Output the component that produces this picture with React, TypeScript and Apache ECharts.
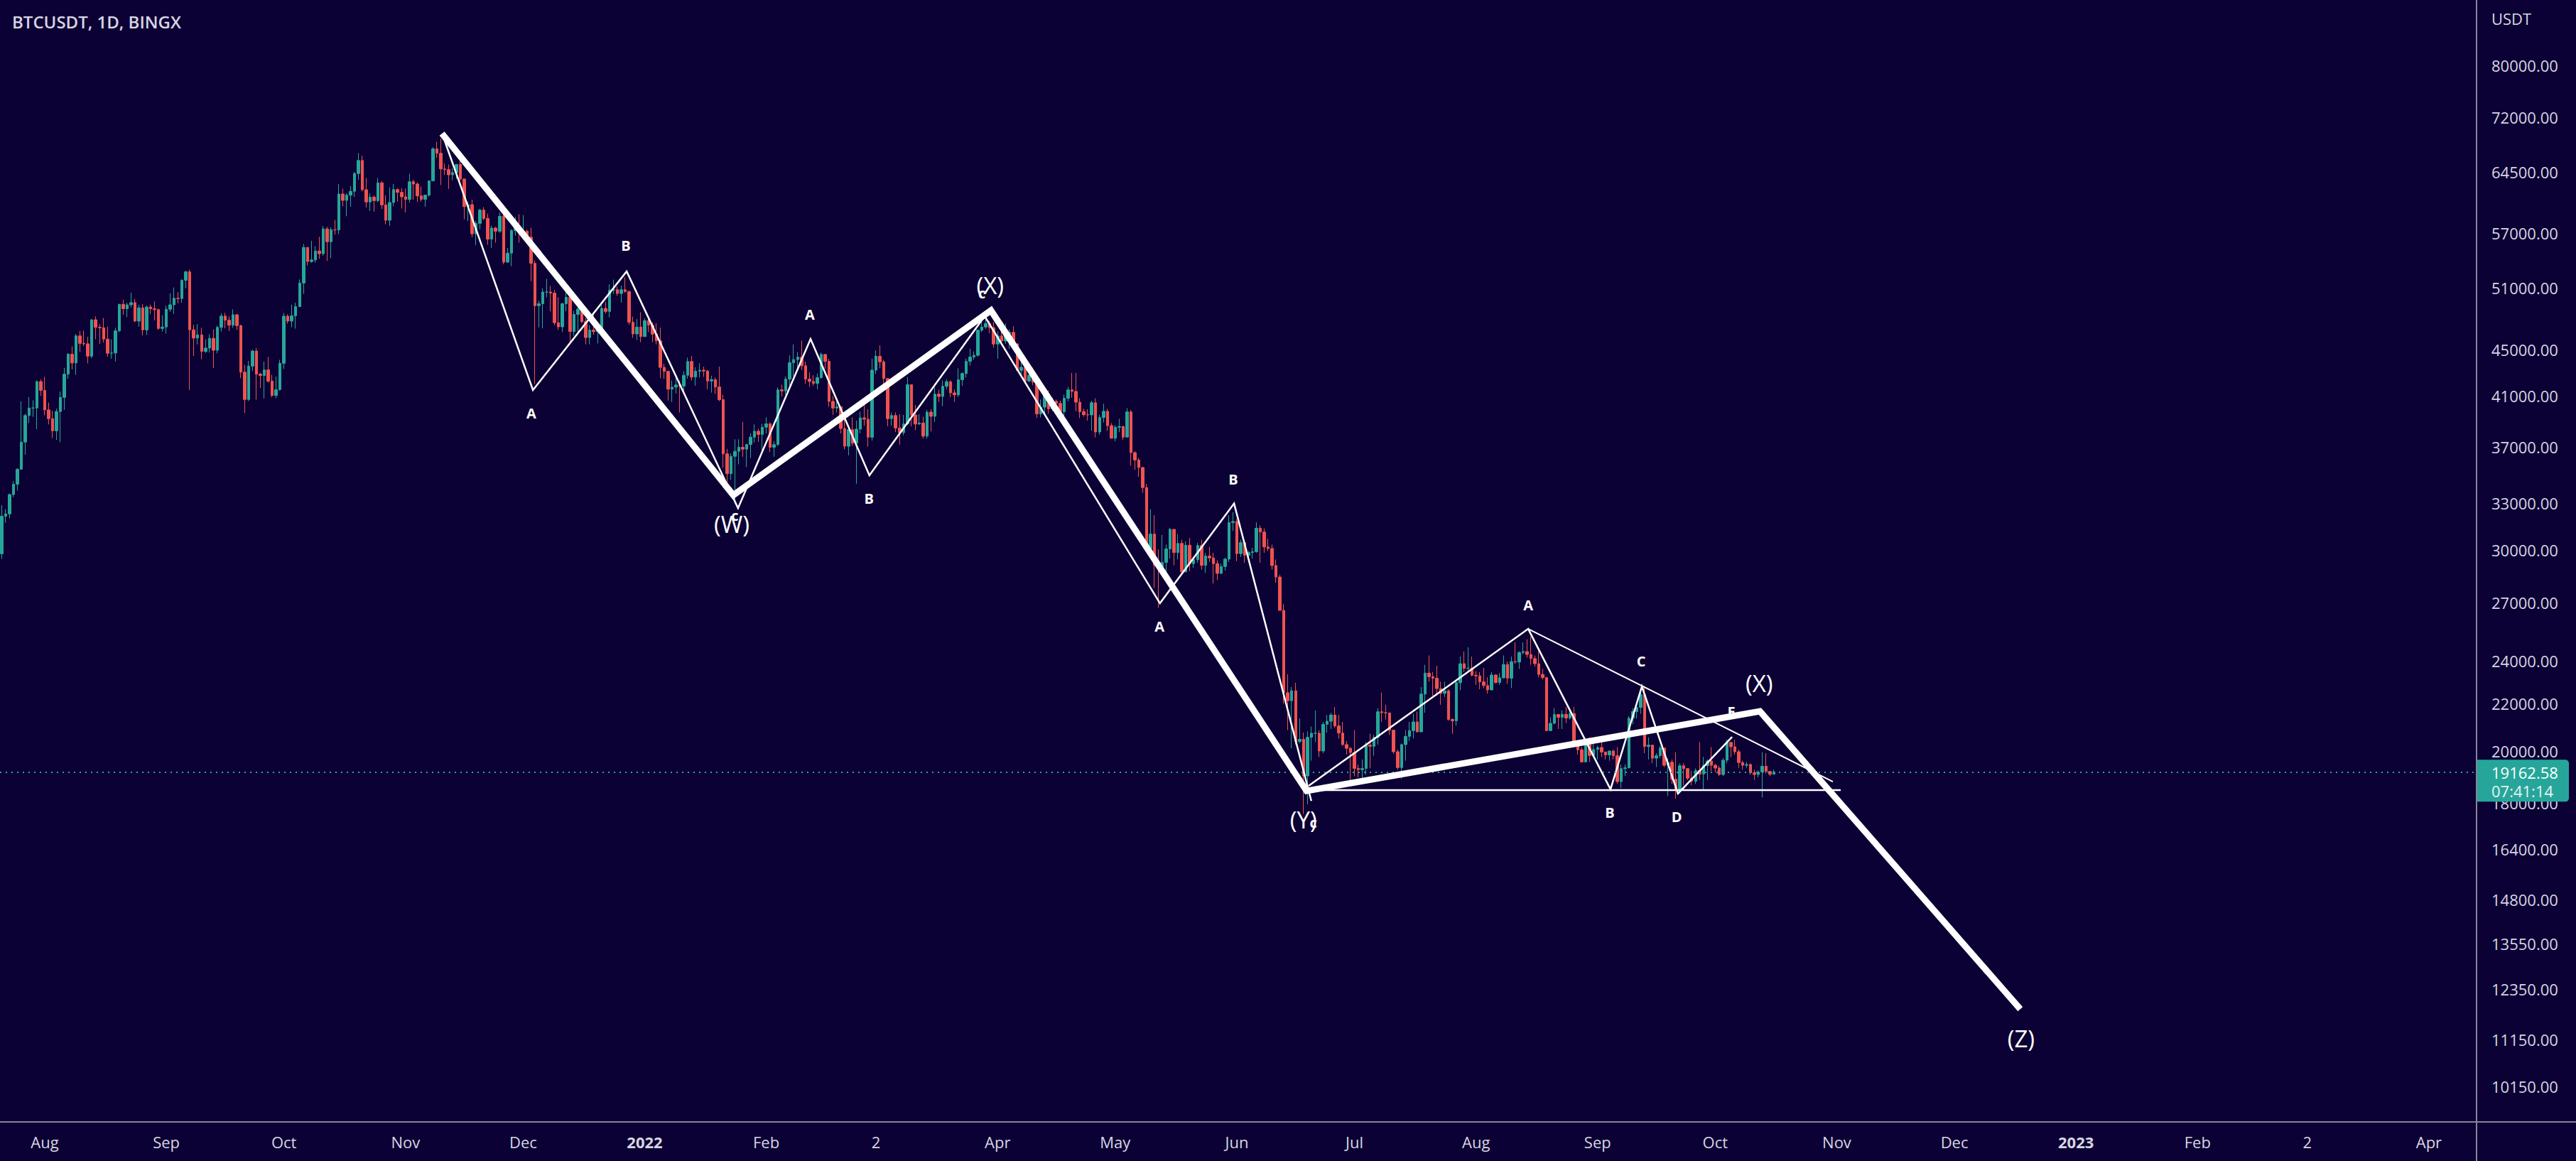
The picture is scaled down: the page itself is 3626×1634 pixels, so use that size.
import React, { useEffect, useRef } from 'react';
import * as echarts from 'echarts';

// ---------- data (daily candles: [close, high, low]; open = previous close) ----------
const FIRST_OPEN = 29790;
const jul2021 = [[32140,32860,29480],[32290,32600,31710],[33580,33650,32000],[34290,34500,33400],[35350,35400,33850],[37340,40550,35300],[39400,39540,36400],[40000,40900,38800],[40010,40630,39300],[42200,42300,38330],[41460,42400,41000]];
const aug2021 = [[39850,42600,39420],[39150,40450,38700],[38200,39780,37640],[39720,39950,37500],[40870,41370,37330],[42840,43390,39850],[44610,44700,42450],[43820,45310,43260],[46290,46450,42780],[45590,46740,44800],[45550,46780,45350],[44430,46200,43790],[47820,47880,44250],[47100,48150,45970],[47050,47390,45540],[45990,48000,45660],[44690,47160,44380],[44710,45960,44200],[46760,47050,43950],[49340,49380,46650],[48900,49800,48300],[49290,49500,48080],[49510,50500,49030],[47690,49880,47600],[48990,49300,47150],[46850,49370,46330],[49070,49200,46370],[48900,49310,48370],[48810,49630,47760],[46990,48900,46850],[47130,48250,46700]];
const sep2021 = [[48850,49200,46510],[49290,50450,48600],[49950,51050,48400],[49920,50560,49430],[51790,51900,49500],[52690,52800,50970],[46860,52920,41500],[46080,47350,44440],[46390,47400,45500],[44850,47050,44150],[45160,45970,44720],[46060,46450,44750],[44960,46900,43370],[47090,47250,44680],[48180,48450,46700],[47780,48500,47000],[47300,48150,46750],[48310,48830,47050],[47260,48380,46850],[43010,47340,42500],[40700,43640,39600],[43540,44000,40570],[44890,45000,43100],[42840,45150,40680],[42720,42970,41650],[43210,43940,40780],[42240,44350,42110],[41030,42780,40880],[41520,42630,40800],[43790,44100,41420]];
const oct2021 = [[48170,48490,43290],[47690,48360,47450],[48200,49300,47100],[49110,49500,46970],[51510,51890,49100],[55360,55750,50400],[53800,55330,53360],[53970,56100,53660],[54960,55490,53700],[54660,56560,54100],[57470,57800,54440],[56000,57700,53880],[57370,57650,54170],[57350,58530,56820],[61670,62930,56850],[60880,62330,60150],[61530,61750,58960],[62010,62650,60100],[64280,64490,61320],[66000,67000,63480],[62210,66640,62000],[60690,63720,60000],[61290,61740,59600],[60850,61480,59510],[63080,63710,60650],[60330,63290,59830],[58480,61500,58000],[60620,62500,57820],[62230,62950,60160],[61880,62370,60740],[61320,62400,59900]];
const nov2021 = [[61000,62350,59400],[63220,64270,60620],[62930,63500,60970],[61440,63130,60680],[61010,62600,60730],[61530,61600,60100],[63330,63400,61330],[67570,67790,63300],[66970,68530,66380],[64880,69000,62800],[64790,65600,64100],[64120,65460,62300],[64400,64970,63400],[65470,65530,63600],[63570,66400,63350],[60120,63600,58600],[60360,60720,58380],[56900,60970,56500],[58120,58400,55600],[59700,59860,57450],[58700,60050,58500],[56290,59280,55650],[57570,57850,55300],[57200,57700,55900],[58960,59400,57000],[53730,59200,53500],[54720,55300,53650],[57270,57450,53300],[57810,58870,56700],[56950,59200,55900]];
const dec2021 = [[57200,59100,56450],[56510,57400,55850],[53600,57600,51700],[49200,53900,42000],[49400,49700,47100],[50580,50950,47000],[50580,51950,50050],[50470,51200,48650],[47540,50800,47300],[47140,50050,46850],[49390,49500,46650],[50050,50800,48650],[46700,50200,45700],[48340,48700,46300],[48860,49500,46550],[47630,49450,47520],[46130,47990,45500],[46830,47300,45500],[46680,48300,46400],[46910,47500,45580],[48930,49300,46600],[48630,49570,48420],[50780,51380,48050],[50820,51860,50400],[50430,51150,50200],[50810,51250,49500],[50640,52100,50500],[47590,50700,47350],[46470,48120,46100],[47120,47900,45900],[46220,48550,45700]];
const jan2022 = [[47740,47950,46200],[47310,47980,46650],[46450,47570,45700],[45830,47500,45500],[43430,47070,42500],[43080,43750,42450],[41560,43140,40610],[41730,42300,40500],[41910,42800,41200],[41820,42250,39650],[42740,43100,41300],[43950,44300,42450],[42590,44450,42300],[43100,43440,41850],[43180,43800,42550],[43110,43500,42600],[42250,43200,41550],[42370,42700,41270],[41740,42550,41150],[40680,43500,40560],[36460,41100,35450],[35030,36830,34000],[36280,36500,34600],[36650,37550,32950],[36950,37550,35700],[36810,38900,36250],[37160,37200,35500],[37710,38000,36150],[38170,38700,37300],[37920,38350,37350],[38480,38750,36650]];
const feb2022 = [[38740,39250,38000],[36950,38850,36600],[37150,37400,36250],[41500,41700,37050],[41410,41930,40950],[42410,42650,41100],[43840,44500,41670],[44120,45500,42650],[44340,44800,43150],[43570,45850,43200],[42410,43950,42000],[42210,43000,41750],[42050,42750,41850],[42540,42900,41550],[44580,44750,42450],[43960,44600,43300],[40540,44180,40100],[40000,40980,39450],[40110,40500,39650],[38380,40150,38000],[37030,39500,36800],[38290,38450,36350],[37260,39250,37050],[38330,39000,34320],[39210,39700,38000],[39110,40300,38600],[37710,39900,37000],[43190,44200,37450]];
const mar2022 = [[44420,44950,42850],[43920,45400,43350],[42460,44100,41850],[39150,42500,38550],[39400,39650,38600],[38420,39650,38100],[38060,39500,37150],[38740,39450,37850],[41940,42600,38650],[39440,41950,38550],[38730,40250,38250],[38810,39500,38650],[37790,39300,37600],[39670,39850,37600],[39340,39900,38150],[41140,41700,38900],[40950,41500,40500],[41800,42300,40150],[42190,42400,41550],[41250,42300,40900],[41080,41550,40500],[42360,43350,40900],[42890,43000,41850],[43960,44200,42550],[44350,45100,43600],[44500,44850,44100],[46820,46900,44400],[47130,48200,46650],[47460,48100,46950],[47060,47700,46550],[45530,47600,45200]];
const apr2022 = [[46280,46700,44200],[45810,47200,45600],[46400,47450,45550],[46620,46900,45100],[45550,47200,45350],[43170,45550,43100],[43440,43900,42750],[42250,43950,42100],[42750,42800,42150],[42160,43400,41900],[39530,42400,39200],[40070,40700,39250],[41150,41550,39550],[39940,41450,39550],[40550,40850,39750],[40380,40700,40000],[39710,40600,39550],[40800,41100,38550],[41500,41750,40550],[41370,42950,40850],[40480,42950,39750],[39710,40800,39200],[39470,39950,39300],[39450,39900,39000],[40430,40600,38200],[38110,40800,37700],[39240,39450,37900],[39740,40350,38850],[38600,39950,38200],[37630,38800,37600]];
const may2022 = [[38470,38650,37400],[38530,39150,38100],[37720,38600,37500],[39690,40000,37700],[36550,39850,35600],[36010,36650,35300],[35470,36150,34800],[34060,35500,33700],[30100,34300,30050],[31000,32600,29750],[29100,32200,27800],[28930,30050,26700],[29280,30950,28750],[30080,30350,28650],[31300,31400,29500],[29860,31300,29100],[30420,31000,29450],[28720,30650,28650],[30310,30550,28700],[29200,30750,28750],[29430,29600,28950],[30290,30450,29250],[29100,30650,28850],[29650,29850,28650],[29540,30200,29300],[29200,29850,28050],[28630,29400,28250],[29030,29200,28600],[29470,29550,28800],[31730,32200,29300],[31800,32400,31200]];
const jun2022 = [[29800,31950,29350],[30470,30650,29600],[29700,30650,29250],[29860,29950,29500],[29910,30150,29500],[31370,31750,29850],[31130,31550,29250],[30200,31350,29850],[30110,30700,29950],[29090,30350,28850],[28420,29450,28100],[26570,28550,26550],[22490,26900,22000],[22130,23350,20850],[22580,22750,20100],[20380,22950,20250],[20470,21350,20300],[19010,20750,17600],[20550,20800,17950],[20720,21000,19600],[20720,21700,20350],[19990,20850,19750],[21100,21200,19900],[21230,21500,20750],[21500,21600,20900],[21030,21850,20950],[20730,21500,20500],[20250,21200,20200],[20100,20400,19850],[19930,20150,18650]];
const jul2022 = [[19300,20850,19000],[19250,19450,18950],[19300,19650,18800],[20230,20350,19050],[20180,20700,19300],[20550,20650,19800],[21640,21800,20250],[21600,22500,21200],[21590,21950,21300],[20850,21600,20650],[19960,20850,19880],[19330,20050,19250],[20250,20300,18900],[20590,20850,19600],[20830,21200,20400],[21200,21550,20500],[20780,21650,20750],[22430,22750,20770],[23400,23800,21600],[23230,24250,23000],[23160,23450,22350],[22680,23750,22350],[22460,22990,21950],[22580,23000,22300],[21310,22650,21250],[21250,21350,20700],[22950,23100,21050],[23850,24200,22600],[23630,24450,23450],[23640,24650,23500],[23300,24200,23250]];
const aug2022 = [[23270,23500,22850],[22990,23450,22650],[22820,23650,22700],[22620,23200,22450],[23310,23450,22600],[22960,23350,22900],[23180,23400,22850],[23810,24250,23150],[23160,23950,22900],[23950,24200,22700],[23930,24900,23850],[24400,24450,23600],[24440,24900,24300],[24300,25050,24150],[24100,25200,23800],[23850,24250,23700],[23340,24450,23200],[23190,23600,23100],[20830,23200,20800],[21140,21400,20850],[21520,21800,21100],[21400,21550,20900],[21530,21700,20900],[21370,21850,21150],[21560,21800,21300],[20260,21850,20150],[20040,20350,19850],[19550,20150,19550],[20280,20400,19550],[19810,20550,19550],[20050,20480,19800]];
const sep2022 = [[20130,20200,19650],[19950,20450,19750],[19830,19950,19650],[19990,20000,19600],[19800,20050,19650],[18790,20150,18700],[19290,19450,18550],[19320,19450,19000],[21360,21450,19300],[21650,21800,21100],[21830,21850,21350],[22400,22500,21550],[20170,22800,19900],[20230,20550,19650],[19700,20200,19500],[19800,19900,19350],[20110,20200,19700],[19420,20100,19350],[19540,19700,18250],[18880,19650,18700],[18480,19950,18150],[19400,19500,18350],[19290,19500,18650],[18920,19300,18850],[18800,19200,18650],[19220,19300,18700],[19080,20350,18850],[19410,19750,18500],[19590,19650,18850],[19420,20150,19200]];
const oct2022 = [[19310,19480,19150],[19060,19400,19000],[19620,19700,19000],[20340,20450,19500],[20160,20350,19750],[19960,20450,19850],[19530,20050,19320],[19420,19600,19250],[19450,19550,19320],[19130,19500,19050],[19060,19250,18850],[19160,19220,18950],[19380,19950,18200],[19180,19900,19100],[19070,19200,19000],[19162.58,19250,19060]];

const candleMonths: [string, number[][]][] = [
  ['2021-07-21', jul2021], ['2021-08-01', aug2021], ['2021-09-01', sep2021], ['2021-10-01', oct2021],
  ['2021-11-01', nov2021], ['2021-12-01', dec2021], ['2022-01-01', jan2022], ['2022-02-01', feb2022],
  ['2022-03-01', mar2022], ['2022-04-01', apr2022], ['2022-05-01', may2022], ['2022-06-01', jun2022],
  ['2022-07-01', jul2022], ['2022-08-01', aug2022], ['2022-09-01', sep2022], ['2022-10-01', oct2022],
];

const LAST_PRICE = 19162.58;
const TIMER = '07:41:14';

// price axis labels (TradingView scale)
const priceTicks = [80000, 72000, 64500, 57000, 51000, 45000, 41000, 37000, 33000, 30000, 27000, 24000, 22000, 20000, 18000, 16400, 14800, 13550, 12350, 11150, 10150];

// time axis labels (days from 2022-01-01)
const monthTickDays = [-153, -122, -92, -61, -31, 0, 31, 59, 90, 120, 151, 181, 212, 243, 273, 304, 334, 365, 396, 424, 455];
const monthTickLabels = ['Aug', 'Sep', 'Oct', 'Nov', 'Dec', '2022', 'Feb', '2', 'Apr', 'May', 'Jun', 'Jul', 'Aug', 'Sep', 'Oct', 'Nov', 'Dec', '2023', 'Feb', '2', 'Apr'];

// Elliott wave drawings: [day from 2022-01-01, price]
const waveMain = [[-51.7, 69690], [22.6, 33540], [88.3, 48730], [168.8, 18440], [284.4, 21660], [350.8, 11860]];
const waveSub = [[-51.4, 69290], [-28.5, 41480], [-4.6, 52740], [23.8, 32670], [42.3, 46000], [57.3, 34910], [86.7, 48170], [131.4, 26950], [150.3, 32980], [170.0, 18070]];
const triangleWaves = [[169.3, 18630], [225.3, 25590], [246.3, 18500], [254.3, 22780], [263.5, 18340], [277.3, 20570]];
const triangleUpper = [[225.3, 25590], [303.0, 18790]];
const triangleLower = [[168.8, 18470], [305.0, 18470]];

const minorLabels: [string, number, number][] = [
  ['A', -28.9, 39560], ['B', -4.8, 55540], ['c', 23.0, 32170],
  ['A', 42.1, 48370], ['B', 57.2, 33340], ['c', 86.0, 50470],
  ['A', 131.3, 25740], ['B', 150.1, 34650], ['c', 170.5, 17290],
  ['A', 225.3, 26870], ['B', 246.1, 17660], ['C', 254.1, 23960], ['D', 263.2, 17510], ['E', 277.1, 21660],
];
const majorLabels: [string, number, number][] = [
  ['(W)', 22.2, 31620], ['(X)', 88.1, 51240], ['(Y)', 168.0, 17410], ['(X)', 284.2, 22940], ['(Z)', 351.0, 11170],
];

// ---------- layout / style ----------
const W = 3626, H = 1634;
const AXIS_X = 3486, AXIS_Y = 1579;
const X_MIN = -164.41, X_MAX = 467.15;
const Y_MIN = 9440, Y_MAX = 91309;
const BG = '#0c0134';
const TXT = '#d8d5e3';
const FONT = '"Open Sans", "Liberation Sans", sans-serif';
const UP = '#26a69a', DOWN = '#ef5350';

const DAY_MS = 86400000;
const ORIGIN = Date.UTC(2022, 0, 1);
function dayOf(s: string) {
  const [y, m, d] = s.split('-').map(Number);
  return Math.round((Date.UTC(y, m - 1, d) - ORIGIN) / DAY_MS);
}

function buildCandles() {
  const out: number[][] = [];
  let prev = FIRST_OPEN;
  for (const [start, rows] of candleMonths) {
    const d0 = dayOf(start);
    rows.forEach(([c, h, l], i) => {
      out.push([d0 + i, prev, c, l, h]);
      prev = c;
    });
  }
  return out;
}

function labelSeries(name: string, items: [string, number, number][], fontSize: number, fontWeight: string, z: number) {
  return {
    name,
    type: 'scatter',
    z,
    symbol: 'circle',
    symbolSize: 1,
    silent: true,
    itemStyle: { color: 'rgba(0,0,0,0)' },
    label: {
      show: true,
      position: 'inside',
      formatter: '{b}',
      color: '#ffffff',
      opacity: 1,
      fontSize,
      fontWeight,
      fontFamily: FONT,
    },
    data: items.map(([t, d, p]) => ({ name: t, value: [d, p] })),
  };
}

function lineSeries(data: number[][], width: number, z: number) {
  return {
    type: 'line',
    z,
    data,
    symbol: 'none',
    silent: true,
    lineStyle: { color: '#ffffff', width, join: 'miter', miterLimit: 20, cap: 'butt' },
  };
}

export default function App() {
  const ref = useRef<HTMLDivElement>(null);
  useEffect(() => {
    document.body.style.margin = '0';
    const chart = echarts.init(ref.current!, null, { renderer: 'svg' });
    const candles = buildCandles();
    chart.setOption({
      animation: false,
      backgroundColor: BG,
      grid: { left: 0, top: 0, right: W - AXIS_X, bottom: H - AXIS_Y, containLabel: false },
      xAxis: {
        type: 'value',
        min: X_MIN,
        max: X_MAX,
        axisLine: { show: false },
        axisTick: { show: false },
        splitLine: { show: false },
        axisLabel: {
          customValues: monthTickDays,
          margin: 17,
          color: TXT,
          fontSize: 22,
          fontFamily: FONT,
          formatter: (v: number) => {
            let bi = 0;
            monthTickDays.forEach((d, i) => { if (Math.abs(d - v) < Math.abs(monthTickDays[bi] - v)) bi = i; });
            const t = monthTickLabels[bi];
            return /^\d{4}$/.test(t) ? `{b|${t}}` : t;
          },
          rich: { b: { fontWeight: 'bold', color: TXT, fontSize: 22, fontFamily: FONT } },
        },
      },
      yAxis: {
        type: 'log',
        logBase: 10,
        position: 'right',
        min: Y_MIN,
        max: Y_MAX,
        axisLine: { show: false },
        axisTick: { show: false },
        splitLine: { show: false },
        axisLabel: {
          customValues: priceTicks,
          margin: 21,
          color: TXT,
          fontSize: 22,
          fontFamily: FONT,
          formatter: (v: number) => Number(v).toFixed(2),
        },
      },
      series: [
        {
          type: 'candlestick',
          z: 2,
          barWidth: 4,
          encode: { x: 0, y: [1, 2, 3, 4] },
          data: candles,
          itemStyle: { color: UP, color0: DOWN, borderColor: UP, borderColor0: DOWN, borderWidth: 1 },
          markLine: {
            silent: true,
            symbol: ['none', 'none'],
            label: { show: false },
            lineStyle: { color: UP, type: [2, 6], width: 2 },
            data: [{ yAxis: LAST_PRICE }],
          },
        },
        lineSeries(triangleUpper, 2, 3),
        lineSeries(triangleLower, 2.5, 3),
        lineSeries(waveSub, 2.5, 3),
        lineSeries(triangleWaves, 2.5, 3),
        labelSeries('minor', minorLabels, 20, 'bold', 4),
        labelSeries('major', majorLabels, 33, 'normal', 4),
        lineSeries(waveMain, 9, 5),
      ],
    });

    const py = chart.convertToPixel({ yAxisIndex: 0 }, LAST_PRICE) as number;
    chart.setOption({
      graphic: [
        {
          type: 'text', left: 17, top: 18, z: 10,
          style: { text: 'BTCUSDT, 1D, BINGX', fill: TXT, fontSize: 24, fontFamily: FONT, fontWeight: 600 },
        },
        {
          type: 'line', z: 10, silent: true,
          shape: { x1: AXIS_X, y1: 0, x2: AXIS_X, y2: H },
          style: { stroke: '#86849a', lineWidth: 2 },
        },
        {
          type: 'line', z: 10, silent: true,
          shape: { x1: 0, y1: AXIS_Y, x2: W, y2: AXIS_Y },
          style: { stroke: '#86849a', lineWidth: 2 },
        },
        {
          type: 'text', x: 3507, y: 26, z: 10,
          style: { text: 'USDT', fill: TXT, fontSize: 22, fontFamily: FONT, verticalAlign: 'middle', align: 'left' },
        },
        {
          type: 'rect', z: 11,
          shape: { x: AXIS_X + 1, y: py - 17, width: 129, height: 59, r: [0, 5, 5, 0] },
          style: { fill: UP },
        },
        {
          type: 'text', x: 3507, y: py + 1, z: 12,
          style: { text: LAST_PRICE.toFixed(2), fill: '#ffffff', fontSize: 22, fontFamily: FONT, verticalAlign: 'middle', align: 'left' },
        },
        {
          type: 'text', x: 3507, y: py + 27, z: 12,
          style: { text: TIMER, fill: '#e6f4f2', fontSize: 22, fontFamily: FONT, verticalAlign: 'middle', align: 'left' },
        },
      ],
    });
    return () => chart.dispose();
  }, []);
  return <div ref={ref} style={{ position: 'absolute', left: 0, top: 0, width: W, height: H }} />;
}
